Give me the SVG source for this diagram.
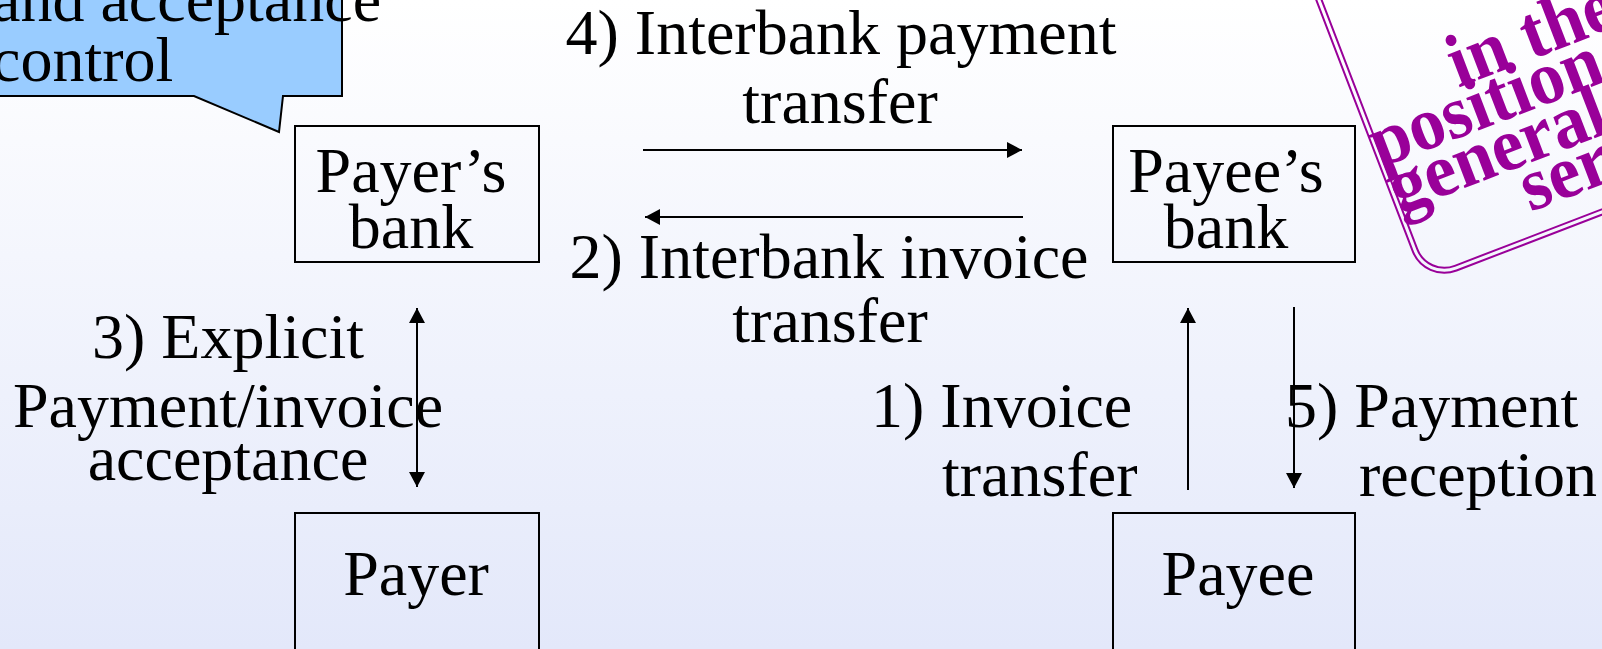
<svg xmlns="http://www.w3.org/2000/svg" width="1602" height="649" viewBox="0 0 1602 649">
<defs>
<linearGradient id="bg" x1="0" y1="0" x2="0" y2="1">
<stop offset="0" stop-color="#FFFFFF"/>
<stop offset="1" stop-color="#E3E8FA"/>
</linearGradient>
<marker id="ah" viewBox="0 0 15 16" refX="15" refY="8" markerWidth="15" markerHeight="16" markerUnits="userSpaceOnUse" orient="auto-start-reverse">
<path d="M0,0 L15,8 L0,16 Z" fill="#000"/>
</marker>
<style>
.t{font-family:"Liberation Serif","Times New Roman",serif;font-size:64px;fill:#000}
.c{text-anchor:middle}
.box{fill:none;stroke:#000;stroke-width:2}
.ln{stroke:#000;stroke-width:2;fill:none}
.st{font-family:"Liberation Serif","Times New Roman",serif;font-size:72px;font-weight:bold;fill:#990099}
.sr{fill:none;stroke:#990099;stroke-width:2}
</style>
</defs>
<rect width="1602" height="649" fill="url(#bg)"/>

<g id="callout">
<path d="M-10,-10 H342 V96 H283 L279,132 L194,96 H-10 Z" fill="#99CCFF" stroke="#000" stroke-width="2"/>
<text class="t" x="-8" y="21">and acceptance</text>
<text class="t" x="-8" y="81">control</text>
</g>

<g id="stamp" transform="rotate(-21 1423 278)">
<rect class="sr" x="1423" y="-140" width="420" height="423" rx="34"/>
<rect class="sr" x="1428" y="-135" width="410" height="413" rx="29"/>
<text class="st" transform="translate(1524 113) scale(1 1.05)">in the</text>
<text class="st" transform="translate(1422 160) scale(1 1.05)">position</text>
<text class="st" transform="translate(1424 209) scale(1 1.05)">general</text>
<text class="st" transform="translate(1547 255) scale(1 1.05)">ser</text>
</g>

<g id="payers-bank">
<rect class="box" x="295" y="126" width="244" height="136"/>
<text class="t c" x="411" y="192">Payer’s</text>
<text class="t c" x="411" y="248">bank</text>
</g>

<g id="payees-bank">
<rect class="box" x="1113" y="126" width="242" height="136"/>
<text class="t c" x="1226" y="192">Payee’s</text>
<text class="t c" x="1226" y="248">bank</text>
</g>

<g id="payer">
<rect class="box" x="295" y="513" width="244" height="150"/>
<text class="t c" x="416" y="595">Payer</text>
</g>

<g id="payee">
<rect class="box" x="1113" y="513" width="242" height="150"/>
<text class="t c" x="1238" y="595">Payee</text>
</g>

<g id="connectors">
<line class="ln" x1="643" y1="150" x2="1022" y2="150" marker-end="url(#ah)"/>
<line class="ln" x1="1023" y1="217" x2="645" y2="217" marker-end="url(#ah)"/>
<line class="ln" x1="417" y1="308" x2="417" y2="487" marker-start="url(#ah)" marker-end="url(#ah)"/>
<line class="ln" x1="1188" y1="490" x2="1188" y2="308" marker-end="url(#ah)"/>
<line class="ln" x1="1294" y1="307" x2="1294" y2="488" marker-end="url(#ah)"/>
</g>

<g id="labels">
<text class="t c" x="841" y="54">4) Interbank payment</text>
<text class="t c" x="840" y="123">transfer</text>
<text class="t c" x="829" y="278">2) Interbank invoice</text>
<text class="t c" x="830" y="342">transfer</text>
<text class="t c" x="228" y="358">3) Explicit</text>
<text class="t c" x="228" y="427">Payment/invoice</text>
<text class="t c" x="228" y="480">acceptance</text>
<text class="t" x="871" y="427">1) Invoice</text>
<text class="t" x="942" y="496">transfer</text>
<text class="t" x="1285" y="427">5) Payment</text>
<text class="t" x="1359" y="496">reception</text>
</g>
</svg>
